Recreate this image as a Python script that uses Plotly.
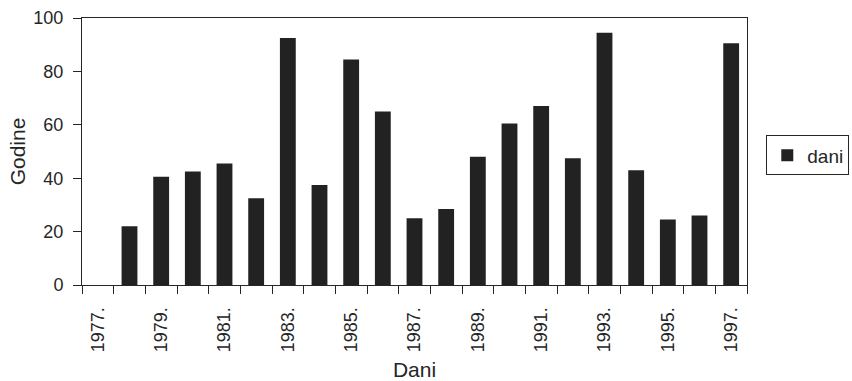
import plotly.graph_objects as go

years = [f"{y}." for y in range(1977, 1998)]
dani = [0, 22, 40.5, 42.5, 45.5, 32.5, 92.5, 37.5, 84.5, 65, 25, 28.5, 48, 60.5, 67, 47.5, 94.5, 43, 24.5, 26, 90.5]
tick_text = [y if i % 2 == 0 else "" for i, y in enumerate(years)]
y_ticks = [0, 20, 40, 60, 80, 100]

FONT = "Liberation Sans, Arial, sans-serif"
INK = "#262626"

fig = go.Figure()
fig.add_trace(go.Bar(x=years, y=dani, name="dani", marker=dict(color="#222222", line=dict(width=0)),
                     showlegend=True))

fig.update_layout(
    width=852, height=381,
    margin=dict(l=82, r=105, t=18, b=96, autoexpand=False),
    paper_bgcolor="white", plot_bgcolor="white",
    font=dict(family=FONT, size=18, color=INK),
    bargap=0.5,
    showlegend=True,
    legend=dict(x=1.029, y=0.56, xanchor="left", yanchor="top",
                bordercolor=INK, borderwidth=1, font=dict(size=19, color=INK),
                bgcolor="white"),
    xaxis=dict(
        type="category", tickmode="array", tickvals=years, ticktext=tick_text,
        tickson="boundaries", ticks="outside", ticklen=8, tickcolor=INK,
        tickangle=-90, showline=True, linecolor=INK, linewidth=1, mirror=True,
        showgrid=False, ticklabelstandoff=14, automargin=False,
        title=dict(text="Dani", font=dict(size=21), standoff=12),
        tickfont=dict(size=18),
    ),
    yaxis=dict(
        range=[0, 100], tickmode="array", tickvals=y_ticks, ticks="outside", ticklen=8,
        tickcolor=INK, showline=True, linecolor=INK, linewidth=1, mirror=True,
        showgrid=False, zeroline=False, ticklabelstandoff=6, automargin=False,
        title=dict(text="Godine", font=dict(size=21), standoff=2),
        tickfont=dict(size=18),
    ),
)

fig.write_html("out.html")
